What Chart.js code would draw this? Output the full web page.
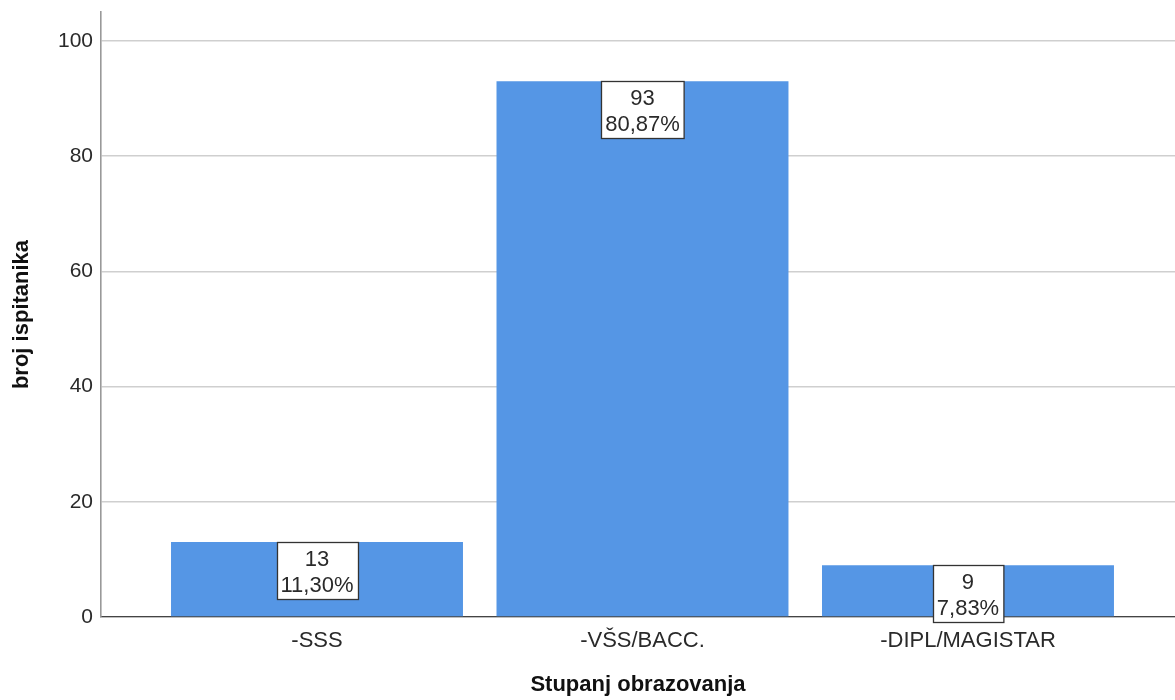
<!DOCTYPE html>
<html>
<head>
<meta charset="utf-8">
<script src="https://cdn.jsdelivr.net/npm/chart.js@4.4.1/dist/chart.umd.min.js"></script>
<style>
  html, body { margin: 0; padding: 0; background: #fff; }
  #wrap { width: 1175px; height: 700px; position: relative; }
</style>
</head>
<body>
<div id="wrap"><canvas id="c"></canvas></div>
<script>
const categories = ['-SSS', '-VŠS/BACC.', '-DIPL/MAGISTAR'];
const counts = [13, 93, 9];
const percentLabels = ['11,30%', '80,87%', '7,83%'];
const yTicks = [0, 20, 40, 60, 80, 100];
const yTitle = 'broj ispitanika';
const xTitle = 'Stupanj obrazovanja';

const FONT = "'Liberation Sans', Arial, sans-serif";

const labelBoxes = {
  id: 'labelBoxes',
  afterDatasetsDraw(chart) {
    const ctx = chart.ctx;
    const meta = chart.getDatasetMeta(0);
    ctx.save();
    ctx.font = '22px ' + FONT;
    meta.data.forEach((el, i) => {
      const lines = [String(counts[i]), percentLabels[i]];
      const w = Math.max(...lines.map(l => ctx.measureText(l).width)) + 8;
      const h = 57;
      const x0 = Math.round(el.x - w / 2) + 0.5;
      const y0 = Math.round(el.y) + 0.5;
      ctx.fillStyle = '#ffffff';
      ctx.fillRect(x0, y0, w, h);
      ctx.strokeStyle = '#333333';
      ctx.lineWidth = 1.3;
      ctx.strokeRect(x0, y0, w, h);
      ctx.fillStyle = '#2a2a2a';
      ctx.textAlign = 'center';
      ctx.textBaseline = 'middle';
      ctx.fillText(lines[0], el.x, el.y + 18);
      ctx.fillText(lines[1], el.x, el.y + 44);
    });
    ctx.restore();
  }
};

new Chart(document.getElementById('c'), {
  type: 'bar',
  data: {
    datasets: [{
      data: counts.map((v, i) => ({ x: i, y: v })),
      backgroundColor: '#5596e5',
      borderWidth: 0,
      barPercentage: 0.897,
      categoryPercentage: 1.0
    }]
  },
  options: {
    responsive: true,
    maintainAspectRatio: false,
    animation: false,
    layout: { padding: { top: 12, left: 0, right: 0, bottom: 0 } },
    plugins: {
      legend: { display: false },
      tooltip: { enabled: false }
    },
    scales: {
      x: {
        type: 'linear',
        offset: false,
        min: -0.6636,
        max: 2.636,
        afterBuildTicks: (scale) => { scale.ticks = categories.map((_, i) => ({ value: i })); },
        afterFit: (scale) => { scale.height = 83; scale.paddingLeft = 0; scale.paddingRight = 0; },
        grid: { display: false, drawTicks: false },
        border: { display: true, color: '#444444', width: 1.2 },
        ticks: {
          autoSkip: false,
          maxRotation: 0,
          padding: 11,
          color: '#2a2a2a',
          font: { family: FONT, size: 22 },
          callback: (v) => categories[v] ?? ''
        },
        title: {
          display: true,
          text: xTitle,
          color: '#111111',
          font: { family: FONT, size: 22, weight: 'bold' },
          padding: { top: 0, bottom: 2 }
        }
      },
      y: {
        min: 0,
        max: 105,
        afterBuildTicks: (scale) => { scale.ticks = yTicks.map(v => ({ value: v })); },
        afterFit: (scale) => { scale.width = 101; scale.paddingTop = 0; scale.paddingBottom = 0; },
        grid: { color: '#cfcfcf', lineWidth: 1.5, drawTicks: false },
        border: { display: true, color: '#999999', width: 1.6 },
        ticks: {
          padding: 8,
          color: '#2a2a2a',
          font: { family: FONT, size: 21 }
        },
        title: {
          display: true,
          text: yTitle,
          color: '#111111',
          font: { family: FONT, size: 22, weight: 'bold' },
          padding: { top: 9, bottom: 0 }
        }
      }
    }
  },
  plugins: [labelBoxes]
});
</script>
</body>
</html>
